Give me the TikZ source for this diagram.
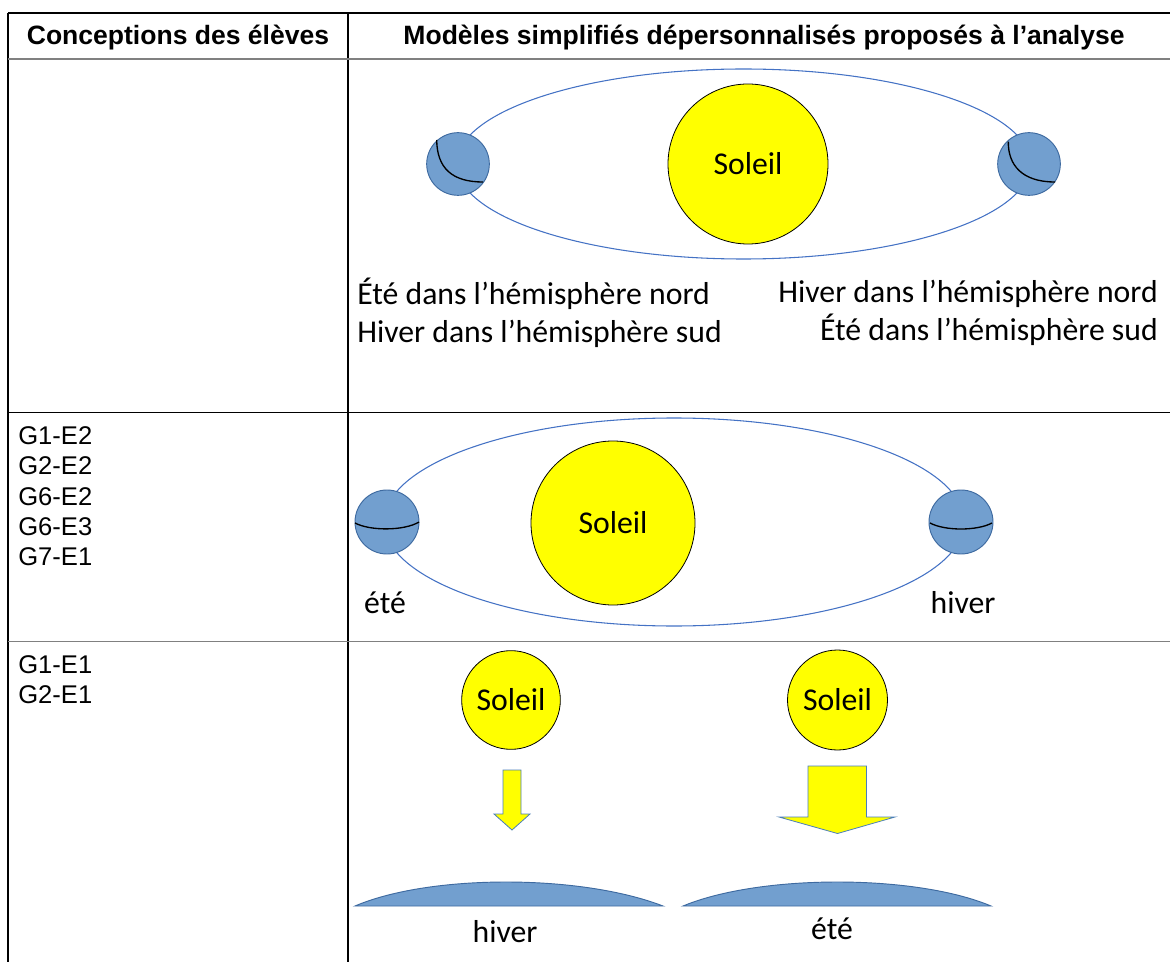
\documentclass[tikz,border=0pt]{standalone}
\usepackage{fontspec}
\setmainfont{Carlito}
\newfontfamily\arialfont{Liberation Sans}
\definecolor{jaune}{RGB}{255,255,0}
\definecolor{bleuTerre}{RGB}{114,159,207}
\definecolor{bordTerre}{RGB}{62,106,160}
\definecolor{bleuOrbite}{RGB}{68,114,196}
\definecolor{bordFleche}{RGB}{74,126,187}
\tikzset{
	soleil/.style={circle, draw=black, fill=jaune, line width=0.6pt, inner sep=0pt, font=\fontsize{23.8}{27.75}\selectfont},
	terre/.style={circle, draw=bordTerre, fill=bleuTerre, line width=0.7pt, inner sep=0pt, minimum size=47pt},
	orbite/.style={draw=bleuOrbite, line width=0.8pt},
	equateur/.style={black, line width=1pt},
	fleche/.style={draw=bordFleche, fill=jaune, line width=0.6pt},
	sol/.style={draw=bordTerre, fill=bleuTerre, line width=0.7pt},
	texte/.style={font=\fontsize{23.8}{28.4}\selectfont, inner sep=0pt},
	entete/.style={font=\arialfont\bfseries\fontsize{19.9}{23}\selectfont, inner sep=0pt},
	groupe/.style={font=\arialfont\fontsize{19.2}{22.7}\selectfont, align=left, inner sep=0pt},
	trait/.style={line width=1.1pt}
}
\begin{document}
\begin{tikzpicture}[x=0.75pt, y=-0.75pt]
		\useasboundingbox (0,0) rectangle (1170,962);
		
		% tableau
		\draw[trait] (8,13) -- (1170,13);
		\draw[trait] (8,13) -- (8,962);
		\draw[trait] (348,13) -- (348,962);
		\draw[trait, gray] (8,59) -- (1170,59);
		\draw[trait] (8,412.5) -- (1170,412.5);
		\draw[trait, gray] (8,641.5) -- (1170,641.5);
		
		\node[entete, anchor=base] (titreA) at (178,45) {Conceptions des élèves};
		\node[entete, anchor=base] (titreB) at (764,45) {Modèles simplifiés dépersonnalisés proposés à l’analyse};
		
		% modele 1
		\draw[orbite] (743.5,164) ellipse (287 and 95);
		\node[soleil, minimum size=120pt] (soleilA) at (748,164) {Soleil};
		\node[terre] (terreG) at (458,164) {};
		\node[terre] (terreD) at (1029,164) {};
		\draw[equateur] (436.7,140) .. controls (437,168) and (452,182) .. (483,182);
		\draw[equateur] (1008.3,141.7) .. controls (1008,165) and (1022,182) .. (1055,182);
		
		\node[texte, align=left, anchor=west] (saisonG) at (357,313) {Été dans l’hémisphère nord\\Hiver dans l’hémisphère sud};
		\node[texte, align=right, anchor=east] (saisonD) at (1158,313) {Hiver dans l’hémisphère nord\\Été dans l’hémisphère sud};
		
		% modele 2
		\node[groupe, anchor=north west] (groupesB) at (18,426.5) {G1-E2\\G2-E2\\G6-E2\\G6-E3\\G7-E1};
		\draw[orbite] (674,522) ellipse (290 and 104);
		\node[soleil, minimum size=123pt] (soleilB) at (613,523) {Soleil};
		\node[terre, minimum size=48pt] (terreE) at (387,522) {};
		\node[terre, minimum size=48pt] (terreH) at (961,522) {};
		\draw[equateur] (355,523) .. controls (370,531) and (404,531) .. (419,522);
		\draw[equateur] (930,523) .. controls (945,531) and (977,531) .. (992,523);
		\node[texte, anchor=base] (ete) at (385,613) {été};
		\node[texte, anchor=base] (hiver) at (963,613) {hiver};
		
		% modele 3
		\node[groupe, anchor=north west] (groupesC) at (18,655.5) {G1-E1\\G2-E1};
		\node[soleil, minimum size=74pt] (soleilC) at (511,700) {Soleil};
		\node[soleil, minimum size=75pt] (soleilD) at (837.5,700) {Soleil};
		
		\draw[fleche] (503,770) -- (521,770) -- (521,814) -- (530,814) -- (512,830) -- (494,814) -- (503,814) -- cycle;
		\draw[fleche] (808,766) -- (866.5,766) -- (866.5,817) -- (895,817) -- (837.5,833.5) -- (779,817) -- (808,817) -- cycle;
		
		\draw[sol] (355,906) .. controls (430,874) and (580,874) .. (663,906) -- cycle;
		\draw[sol] (683,906) .. controls (760,874) and (915,874) .. (991,906) -- cycle;
		\node[texte, anchor=base] (hiverC) at (505,942) {hiver};
		\node[texte, anchor=base] (eteC) at (832,939) {été};
	\end{tikzpicture}
\end{document}
